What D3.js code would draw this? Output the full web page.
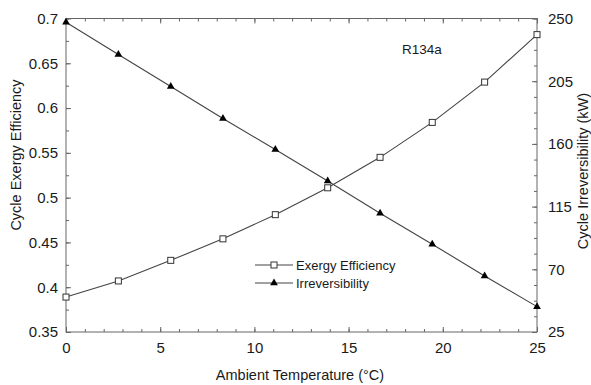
<!DOCTYPE html>
<html>
<head>
<meta charset="utf-8">
<script src="https://cdn.jsdelivr.net/npm/d3@7/dist/d3.min.js"></script>
<style>
  html, body { margin: 0; padding: 0; background: #fff; }
  svg { display: block; font-family: "Liberation Sans", Arial, sans-serif; }
</style>
</head>
<body>
<svg id="chart" width="591" height="385"></svg>
<script>
// Ambient temperature (°C) sample points
const temperature = [0, 2.78, 5.56, 8.33, 11.11, 13.89, 16.67, 19.44, 22.22, 25];
// Cycle exergy efficiency (left axis)
const exergyEfficiency = [0.389, 0.407, 0.430, 0.454, 0.481, 0.511, 0.545, 0.584, 0.629, 0.682];
// Cycle irreversibility, kW (right axis)
const irreversibility = [247.3, 224.2, 201.2, 178.2, 156.0, 133.4, 110.2, 88.0, 65.2, 43.2];

const xTicks = [0, 5, 10, 15, 20, 25];
const yLeftTicks = [0.35, 0.4, 0.45, 0.5, 0.55, 0.6, 0.65, 0.7];
const yRightTicks = [25, 70, 115, 160, 205, 250];
const xMinorTicks = d3.range(0, 25.001, 1);
const yLeftMinorTicks = d3.range(0.35, 0.7001, 0.025);
const yRightMinorTicks = d3.range(25, 250.001, 11.25);

const svg = d3.select("#chart");
const m = { left: 66, top: 18.5, right: 54, bottom: 53 };
const W = 591, H = 385;
const iw = W - m.left - m.right, ih = H - m.top - m.bottom;

const x = d3.scaleLinear().domain([0, 25]).range([0, iw]);
const yL = d3.scaleLinear().domain([0.35, 0.7]).range([ih, 0]);
const yR = d3.scaleLinear().domain([25, 250]).range([ih, 0]);

const g = svg.append("g").attr("transform", `translate(${m.left},${m.top})`);

const axisColor = "#666";
const textColor = "#1a1a1a";
const lineColor = "#444";

function styleAxis(sel, fontSize) {
  sel.select(".domain").remove();
  sel.selectAll(".tick line").attr("stroke", axisColor).attr("stroke-width", 1);
  sel.selectAll(".tick text").attr("fill", textColor).attr("font-size", fontSize)
     .attr("font-family", "'Liberation Sans', Arial, sans-serif");
}

// Minor ticks (inward on all sides)
g.append("g").call(d3.axisBottom(x).tickValues(xMinorTicks).tickSize(-3).tickFormat(""))
  .attr("transform", `translate(0,${ih})`).call(s => styleAxis(s, 0));
g.append("g").call(d3.axisTop(x).tickValues(xMinorTicks).tickSize(-3).tickFormat(""))
  .call(s => styleAxis(s, 0));
g.append("g").call(d3.axisLeft(yL).tickValues(yLeftMinorTicks).tickSize(-3).tickFormat(""))
  .call(s => styleAxis(s, 0));
g.append("g").call(d3.axisRight(yR).tickValues(yRightMinorTicks).tickSize(-3).tickFormat(""))
  .attr("transform", `translate(${iw},0)`).call(s => styleAxis(s, 0));

// Major ticks with labels
g.append("g").attr("transform", `translate(0,${ih})`)
  .call(d3.axisBottom(x).tickValues(xTicks).tickSize(-5).tickPadding(10).tickFormat(d3.format("d")))
  .call(s => styleAxis(s, 15));
g.append("g")
  .call(d3.axisTop(x).tickValues(xTicks).tickSize(-5).tickFormat(""))
  .call(s => styleAxis(s, 0));
g.append("g")
  .call(d3.axisLeft(yL).tickValues(yLeftTicks).tickSize(-5).tickPadding(8).tickFormat(d => d3.format("")(+d.toFixed(2))))
  .call(s => styleAxis(s, 15));
g.append("g").attr("transform", `translate(${iw},0)`)
  .call(d3.axisRight(yR).tickValues(yRightTicks).tickSize(-5).tickPadding(11).tickFormat(d3.format("d")))
  .call(s => styleAxis(s, 15));

// Frame
g.append("rect").attr("width", iw).attr("height", ih)
  .attr("fill", "none").attr("stroke", axisColor).attr("stroke-width", 1);

// Irreversibility line with filled triangles
const irrData = temperature.map((t, i) => [t, irreversibility[i]]);
g.append("path").datum(irrData)
  .attr("fill", "none").attr("stroke", lineColor).attr("stroke-width", 1.1)
  .attr("d", d3.line().x(d => x(d[0])).y(d => yR(d[1])));
const tri = d3.symbol().type(d3.symbolTriangle).size(26);
g.selectAll(".tri").data(irrData).join("path")
  .attr("class", "tri")
  .attr("transform", d => `translate(${x(d[0])},${yR(d[1])})`)
  .attr("d", tri()).attr("fill", "#000");

// Exergy efficiency line with open squares
const exData = temperature.map((t, i) => [t, exergyEfficiency[i]]);
g.append("path").datum(exData)
  .attr("fill", "none").attr("stroke", lineColor).attr("stroke-width", 1.1)
  .attr("d", d3.line().x(d => x(d[0])).y(d => yL(d[1])));
g.selectAll(".sq").data(exData).join("rect")
  .attr("class", "sq")
  .attr("x", d => x(d[0]) - 3).attr("y", d => yL(d[1]) - 3)
  .attr("width", 6).attr("height", 6)
  .attr("fill", "#fff").attr("stroke", "#333").attr("stroke-width", 1);

// Annotation
svg.append("text").attr("x", 402).attr("y", 54)
  .attr("font-size", 13.5).attr("fill", textColor).text("R134a");

// Axis titles
svg.append("text").attr("x", 300).attr("y", 380)
  .attr("text-anchor", "middle").attr("font-size", 14.5).attr("fill", textColor)
  .text("Ambient Temperature (°C)");
svg.append("text").attr("transform", "translate(21,155) rotate(-90)")
  .attr("text-anchor", "middle").attr("font-size", 14.5).attr("fill", textColor)
  .text("Cycle Exergy Efficiency");
svg.append("text").attr("transform", "translate(588,171) rotate(-90)")
  .attr("text-anchor", "middle").attr("font-size", 14.5).attr("fill", textColor)
  .text("Cycle Irreversibility (kW)");

// Legend
const legend = svg.append("g");
const legendItems = [
  { label: "Exergy Efficiency", y: 265, marker: "square" },
  { label: "Irreversibility", y: 283, marker: "triangle" }
];
legendItems.forEach(it => {
  legend.append("line").attr("x1", 255).attr("x2", 293).attr("y1", it.y).attr("y2", it.y)
    .attr("stroke", lineColor).attr("stroke-width", 1.1);
  if (it.marker === "square") {
    legend.append("rect").attr("x", 271).attr("y", it.y - 3).attr("width", 6).attr("height", 6)
      .attr("fill", "#fff").attr("stroke", "#333");
  } else {
    legend.append("path").attr("transform", `translate(274,${it.y})`).attr("d", tri()).attr("fill", "#000");
  }
  legend.append("text").attr("x", 296).attr("y", it.y + 4.5)
    .attr("font-size", 13).attr("fill", textColor).text(it.label);
});
</script>
</body>
</html>
